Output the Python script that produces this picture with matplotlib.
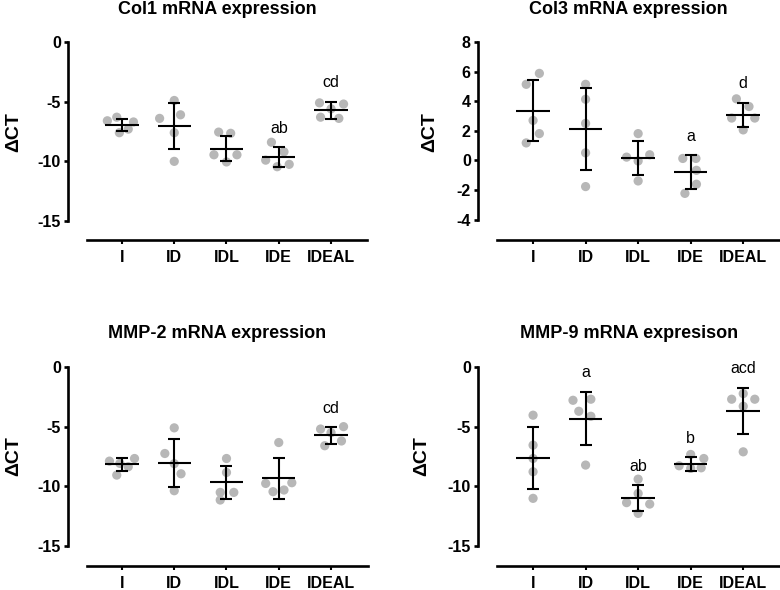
import numpy as np
import matplotlib
matplotlib.use('Agg')
import matplotlib.pyplot as plt

plt.rcParams['font.family'] = ['Liberation Sans', 'DejaVu Sans']

groups = ['I', 'ID', 'IDL', 'IDE', 'IDEAL']

# individual points (dCT) per group
col1_points = [[-6.3, -6.6, -6.7, -7.3, -7.6],
               [-4.9, -6.1, -6.4, -7.6, -10.0],
               [-7.55, -7.65, -9.45, -9.45, -10.05],
               [-8.4, -9.2, -9.9, -10.25, -10.45],
               [-5.1, -5.2, -5.6, -6.3, -6.4]]
col1_mean = [-6.93, -7.04, -8.94, -9.64, -5.73]
col1_sd = [0.52, 1.95, 1.07, 0.84, 0.73]
col1_letters = ['', '', '', 'ab', 'cd']

col3_points = [[5.88, 5.14, 2.70, 1.81, 1.18],
               [5.14, 4.13, 2.50, 0.51, -1.77],
               [1.81, 0.22, 0.38, -0.04, -1.39],
               [0.13, 0.13, -0.67, -1.61, -2.23],
               [4.16, 3.64, 2.86, 2.86, 2.06]]
col3_mean = [3.35, 2.12, 0.18, -0.78, 3.08]
col3_sd = [2.07, 2.78, 1.16, 1.12, 0.83]
col3_letters = ['', '', '', 'a', 'd']

mmp2_points = [[-7.67, -7.89, -8.08, -8.36, -9.06],
               [-5.10, -7.25, -8.1, -8.95, -10.37],
               [-7.67, -8.84, -10.51, -10.51, -11.15],
               [-6.33, -9.76, -9.70, -10.45, -10.31],
               [-5.0, -5.2, -5.5, -6.2, -6.6]]
mmp2_mean = [-8.17, -8.03, -9.67, -9.34, -5.72]
mmp2_sd = [0.52, 2.0, 1.4, 1.73, 0.70]
mmp2_letters = ['', '', '', '', 'cd']

mmp9_points = [[-4.04, -6.55, -7.67, -8.78, -11.01],
               [-2.79, -2.70, -3.71, -4.13, -8.22],
               [-9.40, -10.6, -11.37, -11.49, -12.27],
               [-7.33, -7.67, -8.28, -8.5, -8.45],
               [-2.23, -2.70, -2.70, -3.29, -7.11]]
mmp9_mean = [-7.61, -4.32, -11.01, -8.14, -3.68]
mmp9_sd = [2.58, 2.25, 1.09, 0.56, 1.95]
mmp9_letters = ['', 'a', 'ab', 'b', 'acd']

# horizontal scatter offsets (layout only)
jitter = {
    'col1': [[-0.1, -0.28, 0.22, 0.12, -0.05], [0, 0.12, -0.28, 0, 0],
             [-0.15, 0.08, -0.24, 0.2, 0], [-0.14, 0.1, -0.25, 0.2, -0.03],
             [-0.22, 0.24, 0.0, -0.2, 0.15]],
    'col3': [[0.12, -0.13, 0, 0.12, -0.13], [0, 0, 0, 0, 0],
             [0, -0.22, 0.22, 0, 0], [-0.15, 0.1, 0.11, 0.11, -0.11],
             [-0.13, 0.11, -0.22, 0.22, 0]],
    'mmp2': [[0.24, -0.24, -0.04, 0.12, -0.1], [0, -0.18, 0, 0.13, 0],
             [0, 0, 0.14, -0.12, -0.12], [0, -0.25, 0.25, -0.11, 0.1],
             [0.24, -0.2, 0, 0.2, -0.12]],
    'mmp9': [[0, 0, 0, 0, 0], [-0.24, 0.1, -0.13, 0.1, 0],
             [0, 0, -0.22, 0.22, 0], [0, 0.25, -0.22, 0, 0.2],
             [0, -0.22, 0.22, 0, 0]],
}

W, H = 780, 590
fig = plt.figure(figsize=(7.8, 5.9), dpi=100)


def px_rect(left, top, right, bottom):
    return [left / W, 1 - bottom / H, (right - left) / W, (bottom - top) / H]


def panel(rect, xlim, ylim, ybounds, yticks, xbounds, pts, means, sds, letters, jit):
    ax = fig.add_axes(px_rect(*rect))
    x = np.arange(len(groups))
    for i in range(len(groups)):
        ax.scatter(x[i] + np.array(jit[i]), pts[i], s=44, color='#b7b7b7',
                   edgecolors='none', zorder=2, clip_on=False)
    ax.errorbar(x, means, yerr=sds, fmt='none', ecolor='black', elinewidth=1.5,
                capsize=4.5, capthick=1.5, zorder=3, clip_on=False)
    ax.hlines(means, x - 0.32, x + 0.32, color='black', linewidth=1.5, zorder=3)
    for i, lab in enumerate(letters):
        if lab:
            ax.annotate(lab, (x[i], means[i] + sds[i]), xytext=(0, 13.5),
                        textcoords='offset points', ha='center', va='center',
                        fontsize=11.5)
    ax.set_xlim(*xlim)
    ax.set_ylim(*ylim)
    ax.spines['top'].set_visible(False)
    ax.spines['right'].set_visible(False)
    for s in ['left', 'bottom']:
        ax.spines[s].set_linewidth(1.9)
    ax.spines['left'].set_bounds(*ybounds)
    ax.spines['bottom'].set_bounds(*xbounds)
    ax.set_yticks(yticks)
    ax.set_yticklabels([str(t) for t in yticks])
    ax.set_xticks(x)
    ax.set_xticklabels(groups)
    ax.tick_params(axis='y', direction='out', length=3.2, width=1.9, pad=2,
                   labelsize=11.5)
    ax.tick_params(axis='x', direction='out', length=3.2, width=1.5, pad=4,
                   labelsize=11.5)
    for t in ax.get_xticklabels() + ax.get_yticklabels():
        t.set_fontweight('bold')
    ax.patch.set_visible(False)
    return ax


panel((68, 42, 370, 240), (-1.033, 4.746), (-16.59, 0), (-15, 0), [0, -5, -10, -15],
      (-0.67, 4.69), col1_points, col1_mean, col1_sd, col1_letters, jitter['col1'])
panel((478, 42, 780, 240), (-1.048, 4.70), (-5.38, 8), (-4, 8), [8, 6, 4, 2, 0, -2, -4],
      (-0.69, 4.70), col3_points, col3_mean, col3_sd, col3_letters, jitter['col3'])
panel((68, 367, 370, 566), (-1.033, 4.746), (-16.68, 0), (-15, 0), [0, -5, -10, -15],
      (-0.67, 4.71), mmp2_points, mmp2_mean, mmp2_sd, mmp2_letters, jitter['mmp2'])
panel((478, 367, 780, 566), (-1.048, 4.70), (-16.68, 0), (-15, 0), [0, -5, -10, -15],
      (-0.69, 4.70), mmp9_points, mmp9_mean, mmp9_sd, mmp9_letters, jitter['mmp9'])

titles = [('Col1 mRNA expression', 217, 10), ('Col3 mRNA expression', 628, 10),
          ('MMP-2 mRNA expression', 217, 333), ('MMP-9 mRNA expresison', 629, 333)]
for txt, px, py in titles:
    fig.text(px / W, 1 - py / H, txt, ha='center', va='center',
             fontsize=13, fontweight='bold')

ylabels = [(14, 132), (430, 132), (14, 456), (422, 456)]
for px, py in ylabels:
    fig.text(px / W, 1 - py / H, 'ΔCT', ha='center', va='center', rotation=90,
             fontsize=14, fontweight='bold')

fig.savefig('out.png', dpi=100)
